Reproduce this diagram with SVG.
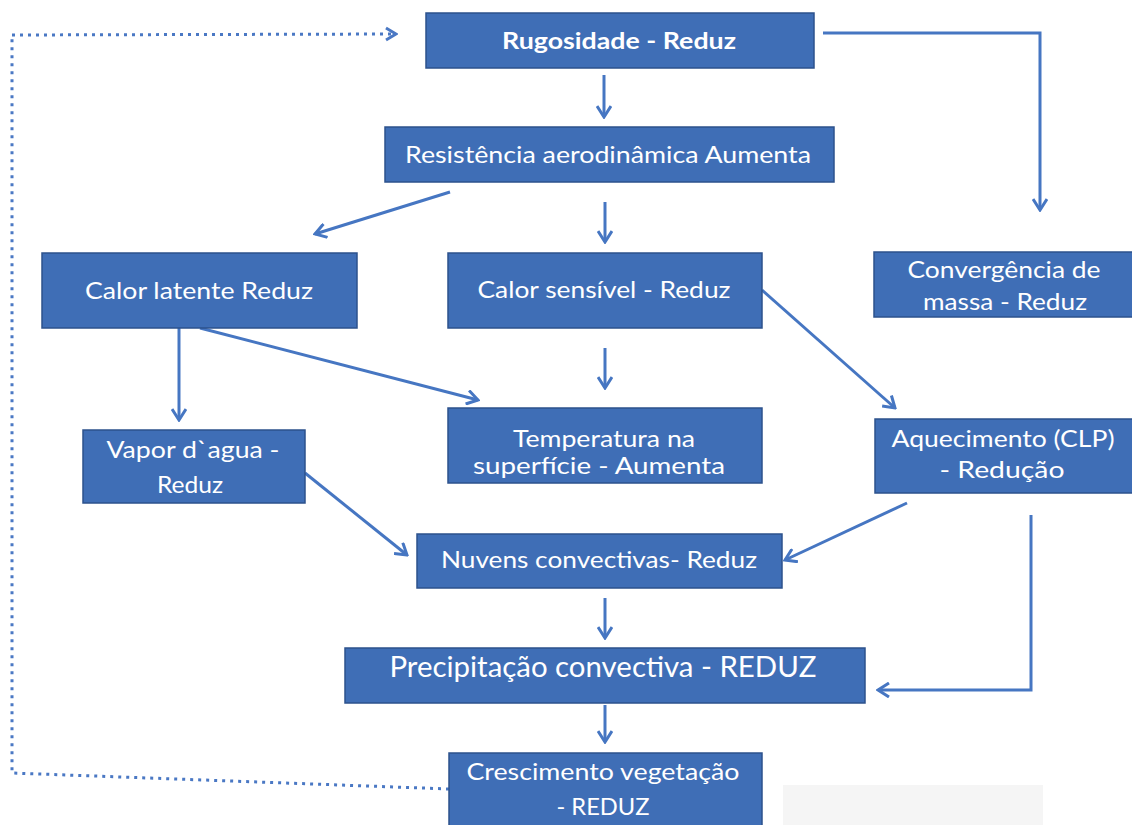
<svg xmlns="http://www.w3.org/2000/svg" width="1132" height="825" viewBox="0 0 1132 825">
  <style>
    .box { fill: #3f6eb6; stroke: #2d528c; stroke-width: 1.5; }
    .lbl { font-family: "Lato", "Open Sans", sans-serif; font-size: 23px; fill: #ffffff; text-anchor: middle; }
    .bold { font-weight: bold; font-size: 22px; }
    .big { font-size: 29px; }
    .link { fill: none; stroke: #4676c2; stroke-width: 3; marker-end: url(#ah); }
    .dots { fill: none; stroke: #4a78c4; stroke-width: 3; stroke-dasharray: 3 5; }
  </style>
  <defs>
    <marker id="ah" viewBox="0 0 14 16" refX="12" refY="8" markerWidth="14" markerHeight="16" orient="auto" markerUnits="userSpaceOnUse">
      <path d="M1,1 L12,8 L1,15" fill="none" stroke="#4676c2" stroke-width="3" stroke-linejoin="miter"/>
    </marker>
    <marker id="ahDot" viewBox="0 0 14 16" refX="12" refY="8" markerWidth="14" markerHeight="16" orient="auto" markerUnits="userSpaceOnUse">
      <path d="M2,2 L12,8 L2,14" fill="none" stroke="#4a78c4" stroke-width="3"/>
    </marker>
  </defs>

  <rect width="1132" height="825" fill="#ffffff"/>
  <!-- light panel in the lower right corner -->
  <rect x="783" y="785" width="260" height="40" fill="#f5f5f5"/>

  <g id="connectors">
    <!-- feedback loop: vegetation back to roughness -->
    <path class="dots" d="M449,789 L12,773 L12,35"/>
    <path class="dots" d="M12,35 L396,34" marker-end="url(#ahDot)"/>

    <line class="link" x1="604" y1="75" x2="604" y2="117"/>
    <path class="link" d="M823,33 L1040,33 L1040,210"/>
    <line class="link" x1="450" y1="192" x2="315" y2="234"/>
    <line class="link" x1="605" y1="202" x2="605" y2="242"/>
    <line class="link" x1="179" y1="328" x2="179" y2="420"/>
    <line class="link" x1="200" y1="328" x2="478" y2="400"/>
    <line class="link" x1="605" y1="348" x2="605" y2="388"/>
    <line class="link" x1="762" y1="290" x2="895" y2="408"/>
    <line class="link" x1="305" y1="473" x2="407" y2="555"/>
    <line class="link" x1="907" y1="503" x2="785" y2="560"/>
    <path class="link" d="M1031,515 L1031,690 L878,690"/>
    <line class="link" x1="605" y1="598" x2="605" y2="638"/>
    <line class="link" x1="605" y1="705" x2="605" y2="742"/>
  </g>

  <g id="rugosidade">
    <rect class="box" x="426" y="13" width="388" height="55"/>
    <text class="lbl bold" x="619" y="49" textLength="234" lengthAdjust="spacingAndGlyphs">Rugosidade - Reduz</text>
  </g>

  <g id="resistencia">
    <rect class="box" x="385" y="127" width="449" height="55"/>
    <text class="lbl" x="608" y="163" textLength="406" lengthAdjust="spacingAndGlyphs">Resistência aerodinâmica Aumenta</text>
  </g>

  <g id="calor-latente">
    <rect class="box" x="42" y="253" width="315" height="75"/>
    <text class="lbl" x="199" y="299" textLength="228" lengthAdjust="spacingAndGlyphs">Calor latente Reduz</text>
  </g>

  <g id="calor-sensivel">
    <rect class="box" x="448" y="253" width="314" height="75"/>
    <text class="lbl" x="604" y="298" textLength="253" lengthAdjust="spacingAndGlyphs">Calor sensível - Reduz</text>
  </g>

  <g id="convergencia">
    <rect class="box" x="874" y="252" width="262" height="65"/>
    <text class="lbl" x="1004" y="278" textLength="193" lengthAdjust="spacingAndGlyphs">Convergência de</text>
    <text class="lbl" x="1005" y="310" textLength="164" lengthAdjust="spacingAndGlyphs">massa - Reduz</text>
  </g>

  <g id="vapor">
    <rect class="box" x="83" y="430" width="222" height="73"/>
    <text class="lbl" x="193" y="458" textLength="173" lengthAdjust="spacingAndGlyphs">Vapor d`agua -</text>
    <text class="lbl" x="190" y="493" textLength="66" lengthAdjust="spacingAndGlyphs">Reduz</text>
  </g>

  <g id="temperatura">
    <rect class="box" x="448" y="408" width="314" height="75"/>
    <text class="lbl" x="604" y="447" textLength="182" lengthAdjust="spacingAndGlyphs">Temperatura na</text>
    <text class="lbl" x="599" y="474" textLength="252" lengthAdjust="spacingAndGlyphs">superfície - Aumenta</text>
  </g>

  <g id="aquecimento">
    <rect class="box" x="875" y="419" width="261" height="74"/>
    <text class="lbl" x="1003" y="447" textLength="223" lengthAdjust="spacingAndGlyphs">Aquecimento (CLP)</text>
    <text class="lbl" x="1002" y="478" textLength="125" lengthAdjust="spacingAndGlyphs">- Redução</text>
  </g>

  <g id="nuvens">
    <rect class="box" x="417" y="534" width="365" height="54"/>
    <text class="lbl" x="599" y="568" textLength="316" lengthAdjust="spacingAndGlyphs">Nuvens convectivas- Reduz</text>
  </g>

  <g id="precipitacao">
    <rect class="box" x="345" y="648" width="520" height="55"/>
    <text class="lbl big" x="603" y="677" textLength="427" lengthAdjust="spacingAndGlyphs">Precipitação convectiva - REDUZ</text>
  </g>

  <g id="crescimento">
    <rect class="box" x="449" y="753" width="313" height="80"/>
    <text class="lbl" x="603" y="780" textLength="273" lengthAdjust="spacingAndGlyphs">Crescimento vegetação</text>
    <text class="lbl" x="603" y="815" textLength="93" lengthAdjust="spacingAndGlyphs">- REDUZ</text>
  </g>
</svg>
